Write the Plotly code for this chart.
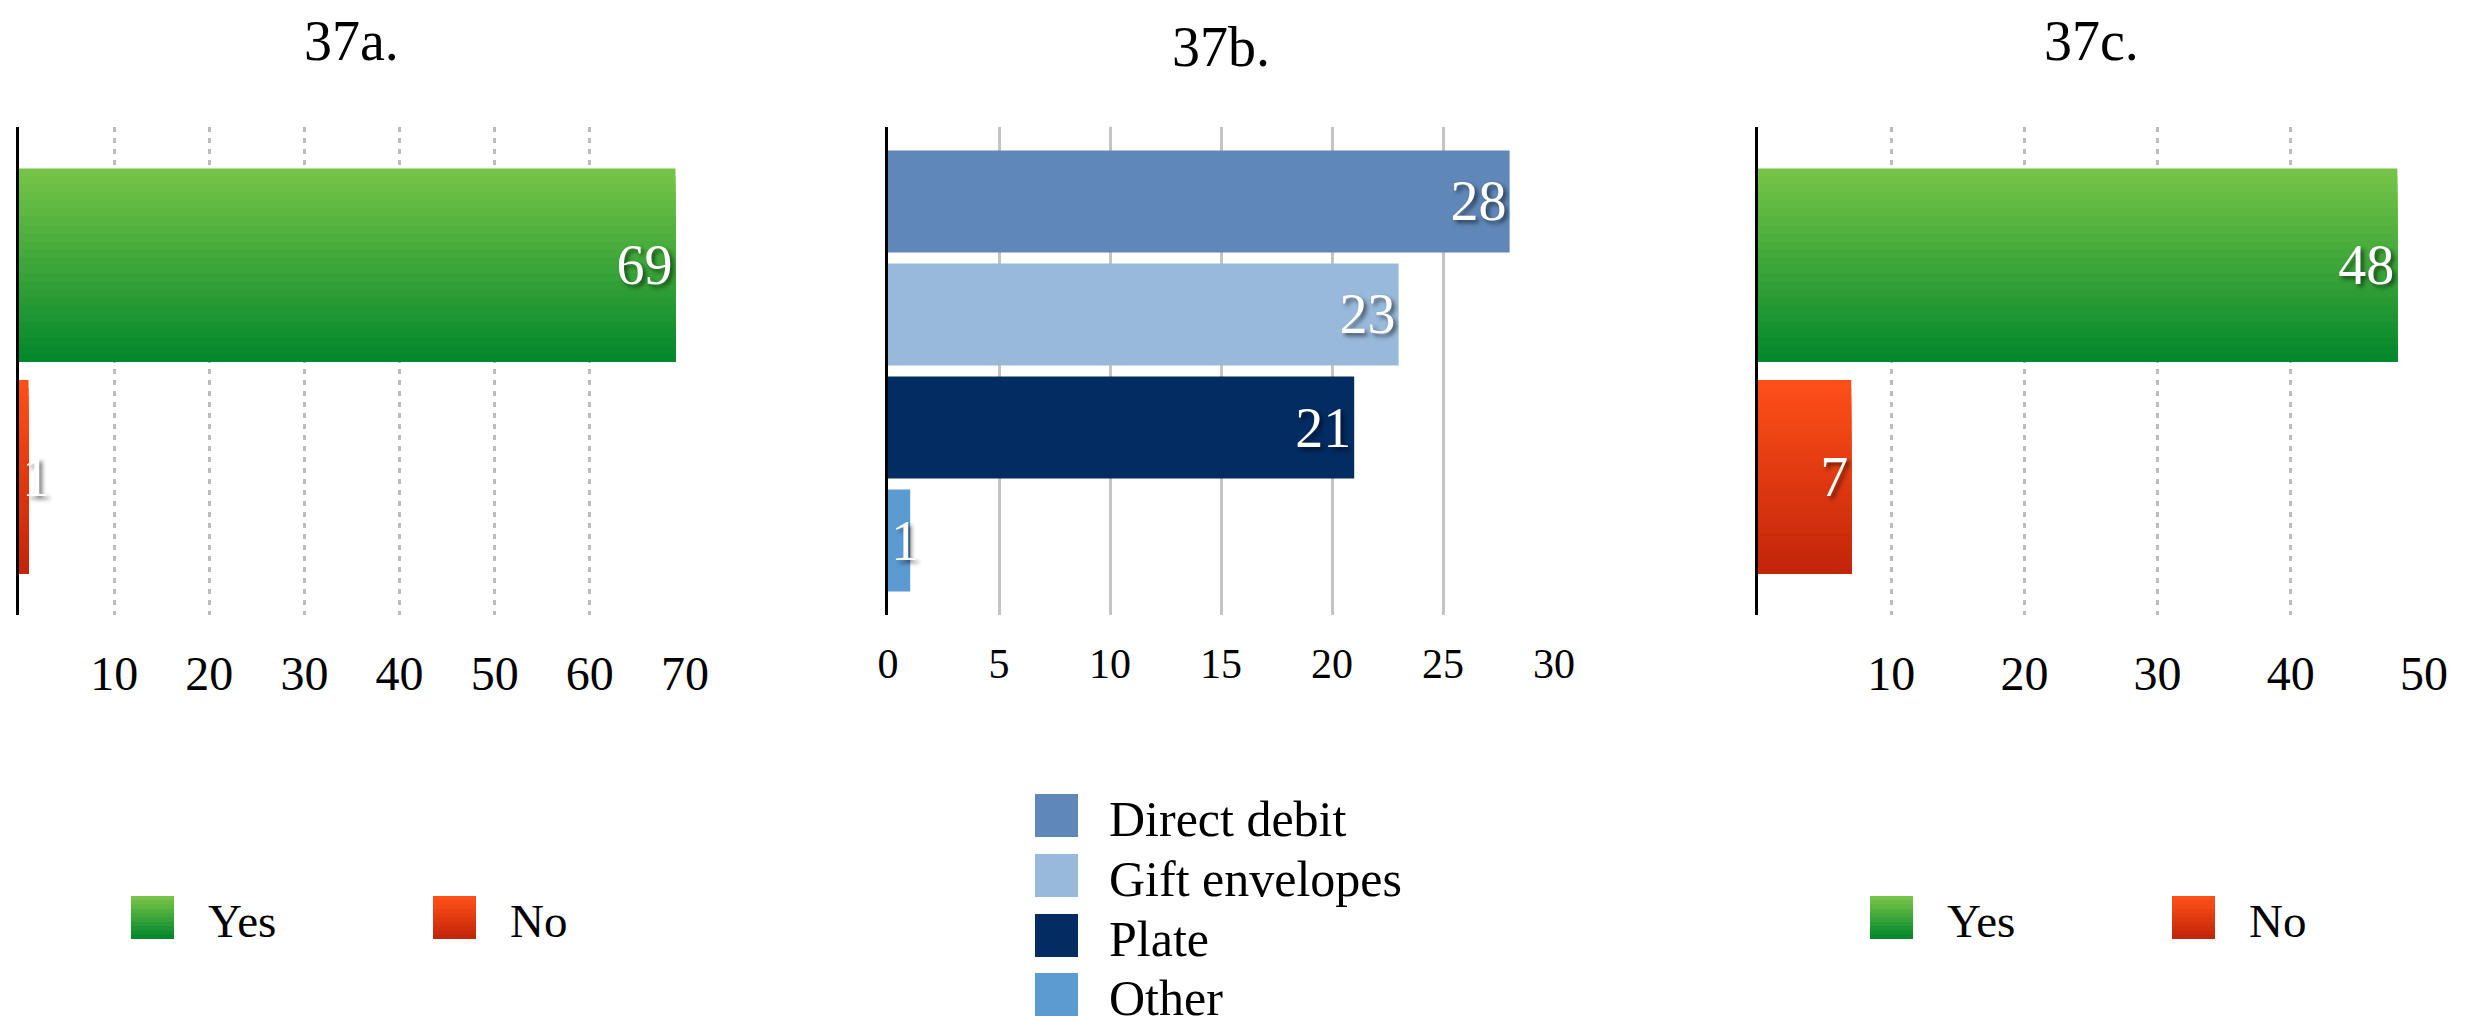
import plotly.graph_objects as go

FONT = "Liberation Serif"

titles = ["37a.", "37b.", "37c."]

a_labels = ["Yes", "No"]
a_values = [69, 1]

b_labels = ["Direct debit", "Gift envelopes", "Plate", "Other"]
b_values = [28, 23, 21, 1]

c_labels = ["Yes", "No"]
c_values = [48, 7]

a_ticks = [10, 20, 30, 40, 50, 60, 70]
b_ticks = [0, 5, 10, 15, 20, 25, 30]
c_ticks = [10, 20, 30, 40, 50]

# gradient bars: (top colour, bottom colour)
yes_colors = ("#76c447", "#04882c")
no_colors = ("#fe4f18", "#c3250a")
b_colors = ["#5f87b8", "#98b9da", "#022c62", "#5b9bd1"]

W, H = 2481, 1029
BODY = 8  # default page margin around the plot div


def px_x(p):
    return (p - BODY) / W


def px_y(p):
    return 1 - (p - BODY) / H


def mix(c1, c2, t):
    p = [int(c1[i:i + 2], 16) for i in (1, 3, 5)]
    q = [int(c2[i:i + 2], 16) for i in (1, 3, 5)]
    return "rgb(%d,%d,%d)" % tuple(round(p[k] + (q[k] - p[k]) * t) for k in range(3))


fig = go.Figure()


def add_bars(n, cat, labels, values, colors, span, gap):
    xa = "x" if n == 1 else "x%d" % n
    ya = "y" if n == 1 else "y%d" % n
    m = len(values)
    w = (span - (m - 1) * gap) / m
    for i, (lab, v, col) in enumerate(zip(labels, values, colors)):
        off = -span / 2 + i * (w + gap)
        if isinstance(col, tuple):
            # vertical gradient made of stacked slices of the same bar
            steps = 24
            for k in range(steps):
                fig.add_trace(go.Bar(
                    y=[cat], x=[v], orientation="h", xaxis=xa, yaxis=ya,
                    offset=off + w * k / steps, width=w * (1 - k / steps),
                    marker=dict(color=mix(col[0], col[1], k / (steps - 1)), line_width=0),
                    name=lab, showlegend=False, hoverinfo="skip"))
            fill = "rgba(0,0,0,0)"
        else:
            fill = col
        fig.add_trace(go.Bar(
            y=[cat], x=[v], orientation="h", xaxis=xa, yaxis=ya,
            offset=off, width=w,
            marker=dict(color=fill, line_width=0),
            name=lab, showlegend=False,
            text=[v], textposition="inside", textangle=0,
            insidetextanchor="end" if v >= 3 else "start",
            constraintext="none", cliponaxis=False,
            textfont=dict(family=FONT, size=56, color="white",
                          shadow="3px 3px 4px rgba(0,0,0,0.55)"),
            hovertemplate=lab + ": %{x}<extra></extra>"))


add_bars(1, titles[0], a_labels, a_values, [yes_colors, no_colors], 0.830, 0.037)
add_bars(2, titles[1], b_labels, b_values, b_colors, 0.904, 0.0225)
add_bars(3, titles[2], c_labels, c_values, [yes_colors, no_colors], 0.830, 0.037)

x_domains = [[px_x(19), px_x(685)], [px_x(888), px_x(1554)], [px_x(1758), px_x(2424)]]
y_domain = [px_y(615), px_y(127)]
ranges = [[0, 70], [0, 30], [0, 50]]
ticks = [a_ticks, b_ticks, c_ticks]
tick_sizes = [48, 42, 48]
standoffs = [26, 20, 26]

layout = dict(
    width=W, height=H,
    paper_bgcolor="white", plot_bgcolor="white",
    margin=dict(l=0, r=0, t=0, b=0, autoexpand=False),
    barmode="overlay",
    font=dict(family=FONT, color="black"),
    showlegend=False,
)

for n in range(3):
    sfx = "" if n == 0 else str(n + 1)
    dashed = n != 1
    layout["xaxis" + sfx] = dict(
        domain=x_domains[n], range=ranges[n], anchor="y" + sfx,
        tickvals=ticks[n], ticks="", showline=False, zeroline=False,
        showgrid=True, gridcolor="#bcbcbc" if dashed else "#c4c4c4",
        gridwidth=2.5 if dashed else 3,
        griddash="5px,6px" if dashed else "solid",
        tickfont=dict(family=FONT, size=tick_sizes[n], color="black"),
        ticklabelstandoff=standoffs[n], automargin=False, fixedrange=True)
    layout["yaxis" + sfx] = dict(
        domain=y_domain, anchor="x" + sfx, range=[0.5, -0.5],
        showticklabels=False, ticks="", showgrid=False, zeroline=False,
        showline=True, linecolor="black", linewidth=3,
        automargin=False, fixedrange=True)

title_y = [41, 47, 41]
annotations = [
    dict(text=titles[n], xref="paper", yref="paper",
         x=sum(x_domains[n]) / 2, y=px_y(title_y[n]),
         xanchor="center", yanchor="middle", showarrow=False,
         font=dict(family=FONT, size=56, color="black"))
    for n in range(3)
]
shapes = []


# legends drawn by hand so the swatches keep their large size
def add_legend(labels, colors, xs, ys, text_dx, size):
    for lab, col, x0, y0 in zip(labels, colors, xs, ys):
        top, bot = col if isinstance(col, tuple) else (col, col)
        steps = 10 if isinstance(col, tuple) else 1
        for k in range(steps):
            shapes.append(dict(
                type="rect", xref="paper", yref="paper", line_width=0,
                fillcolor=mix(top, bot, k / max(steps - 1, 1)),
                x0=px_x(x0), x1=px_x(x0 + 43),
                y0=px_y(y0 + 43 * k / steps), y1=px_y(y0 + 43)))
        annotations.append(dict(
            text=lab, xref="paper", yref="paper",
            x=px_x(x0 + text_dx), y=px_y(y0 + 25),
            xanchor="left", yanchor="middle", showarrow=False,
            font=dict(family=FONT, size=size, color="black")))


add_legend(a_labels, [yes_colors, no_colors], [131, 433], [896, 896], 75, 47)
add_legend(b_labels, b_colors, [1035] * 4, [794, 854, 914, 973], 72, 50)
add_legend(c_labels, [yes_colors, no_colors], [1870, 2172], [896, 896], 75, 47)

layout["annotations"] = annotations
layout["shapes"] = shapes

fig.update_layout(**layout)
fig.write_html("out.html")
